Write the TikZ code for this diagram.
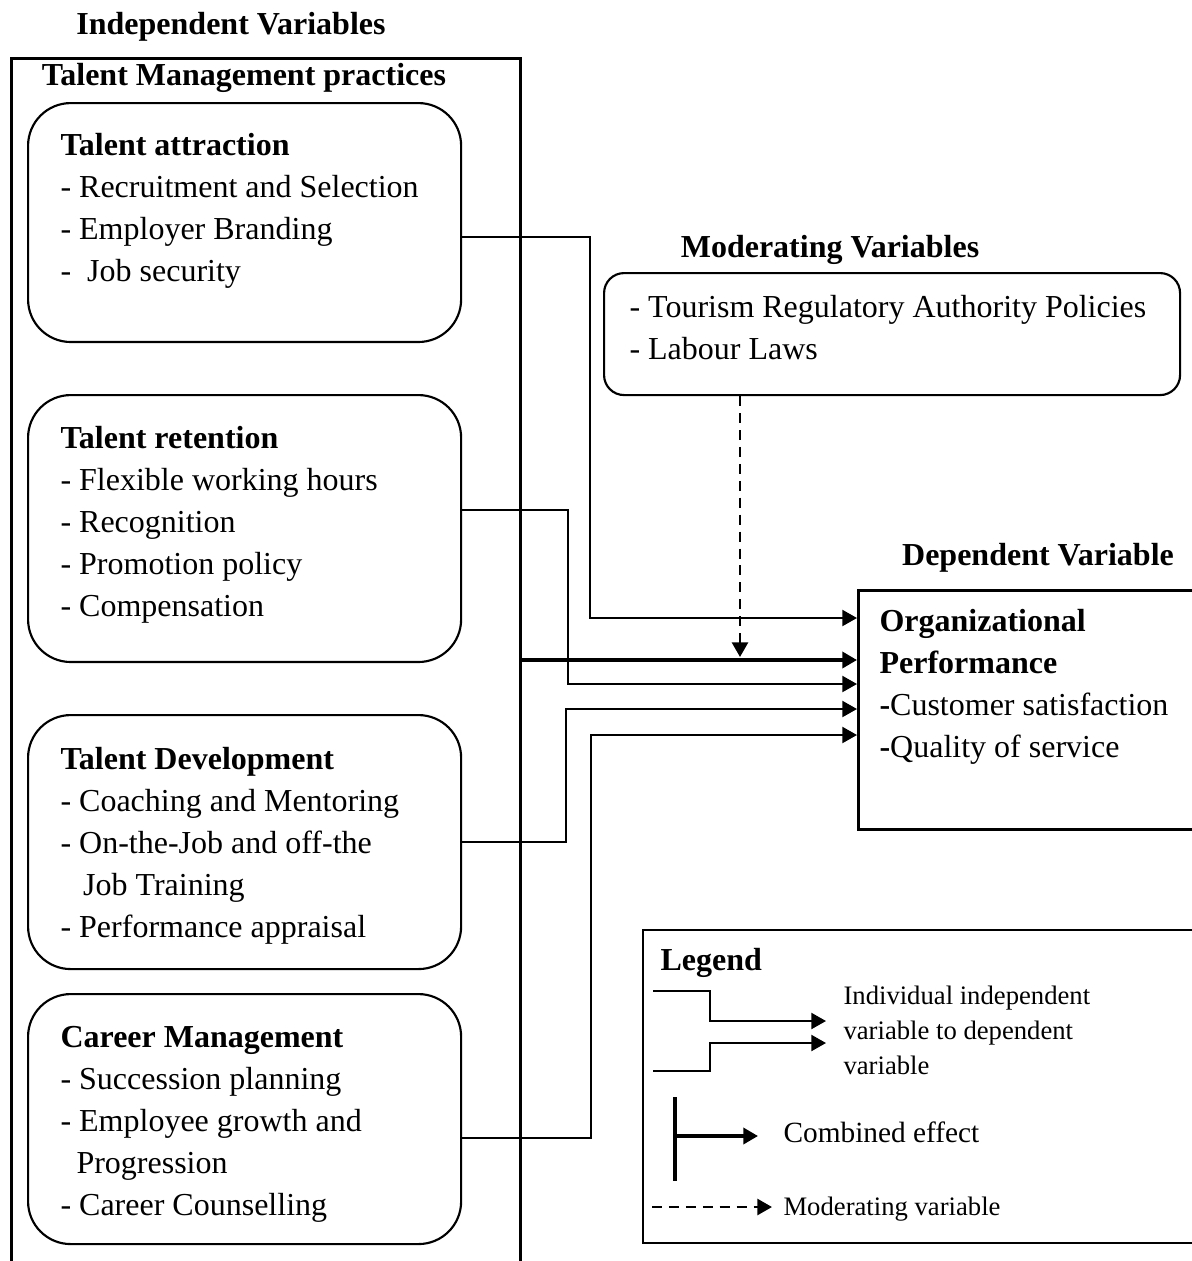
\documentclass[tikz,border=0pt]{standalone}
\usepackage{fontspec}
\setmainfont{Liberation Serif}
\usetikzlibrary{arrows.meta}

\begin{document}
\begin{tikzpicture}[x=0.375pt, y=-0.375pt,
    every node/.style={inner sep=0pt, font=\fontsize{12}{15.75}\selectfont},
    heading/.style={font=\fontsize{12}{15.75}\selectfont\bfseries, anchor=base},
    group/.style={draw, rounded corners=16pt, line width=0.8pt, minimum width=162.4pt, anchor=north west},
    items/.style={align=left, anchor=north west},
    small/.style={font=\fontsize{10}{13.2}\selectfont},
    link/.style={line width=0.8pt, -{Triangle[length=5.5pt, width=6pt]}},
    combined/.style={line width=1.3pt, -{Triangle[length=5.5pt, width=6pt]}},
    moderate/.style={line width=1pt, dash pattern=on 3.75pt off 2.6pt, -{Triangle[length=5.5pt, width=6pt]}}]

    \useasboundingbox (0,0) rectangle (1192,1261);
    \clip (0,0) rectangle (1192,1261);

    % Independent variables
    \node[heading] (indep) at (231,34) {Independent Variables};
    \node[draw, line width=1pt, minimum width=190.9pt, minimum height=480pt, anchor=north west] (tmp) at (10,57) {};
    \node[heading] (tmp-title) at (244,85) {Talent Management practices};

    \node[group, minimum height=89.6pt] (ta) at (27,102) {};
    \node[items] (ta-items) at (60,133) {\textbf{Talent attraction}\\- Recruitment and Selection\\- Employer Branding\\- \ Job security};

    \node[group, minimum height=100.1pt] (tr) at (27,394) {};
    \node[items] (tr-items) at (60,426) {\textbf{Talent retention}\\- Flexible working hours\\- Recognition\\- Promotion policy\\- Compensation};

    \node[group, minimum height=95.25pt] (td) at (27,714) {};
    \node[items] (td-items) at (60,747) {\textbf{Talent Development}\\- Coaching and Mentoring\\- On-the-Job and off-the\\\hspace*{8.5pt}Job Training\\- Performance appraisal};

    \node[group, minimum height=93.75pt] (cm) at (27,993) {};
    \node[items] (cm-items) at (60,1026) {\textbf{Career Management}\\- Succession planning\\- Employee growth and\\\hspace*{6pt}Progression\\- Career Counselling};

    % Moderating variables
    \node[heading] (moderating) at (830,257) {Moderating Variables};
    \node[draw, rounded corners=7.5pt, line width=0.8pt, minimum width=216pt, minimum height=45.75pt, anchor=north west] (mod) at (603,272) {};
    \node[items] (mod-items) at (629,295) {- Tourism Regulatory Authority Policies\\- Labour Laws};

    % Dependent variable
    \node[heading] (dependent) at (1038,565) {Dependent Variable};
    \node[draw, line width=1.1pt, minimum width=150pt, minimum height=89.6pt, anchor=north west] (op) at (857,589) {};
    \node[items] (op-items) at (879,609) {\textbf{Organizational}\\\textbf{Performance}\\\textbf{-}Customer satisfaction\\\textbf{-}Quality of service};

    % Links
    \foreach \b/\ys/\xv/\ye in {ta/237/590/618, tr/510/568/684, td/842/566/709, cm/1138/591/735} {
      \draw[link] (\b.east |- 0,\ys) -| (\xv,\ye) -- (op.west |- 0,\ye);
    }
    \draw[combined] (tmp.east |- 0,660) -- (op.west |- 0,660);
    \coordinate (modin) at (740,657);
    \draw[moderate] (mod.south -| modin) -- (modin);

    % Legend
    \node[draw, line width=0.6pt, minimum width=225pt, minimum height=117.4pt, anchor=north west] (legend) at (642,929) {};
    \node[heading, anchor=base west] (legend-title) at (660,970) {Legend};
    \draw[link] (653,991) -| (710,1021) -- (826,1021);
    \draw[link] (653,1071) -| (710,1043) -- (826,1043);
    \node[items, small] (legend-ind) at (843,985) {Individual independent\\variable to dependent\\variable};
    \draw[line width=1.3pt] (675,1097) -- (675,1181);
    \draw[combined] (675,1136) -- (758,1136);
    \node[anchor=base west, font=\fontsize{11}{13}\selectfont] (legend-comb) at (783,1142) {Combined effect};
    \draw[moderate] (652,1207) -- (772,1207);
    \node[anchor=base west, small] (legend-mod) at (783,1215) {Moderating variable};

  \end{tikzpicture}
\end{document}
